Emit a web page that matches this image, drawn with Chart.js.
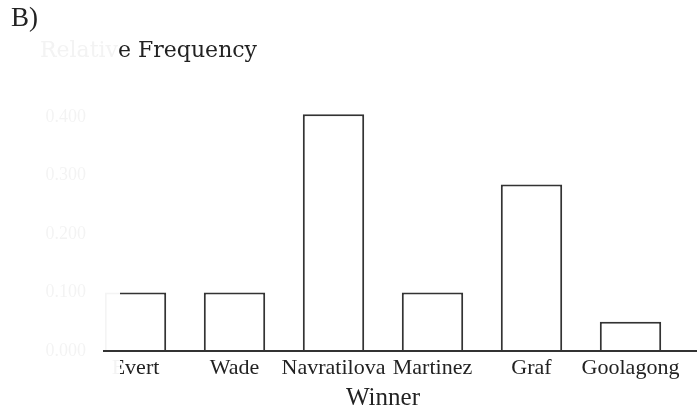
<!DOCTYPE html>
<html>
<head>
<meta charset="utf-8">
<script src="https://cdn.jsdelivr.net/npm/chart.js@4.4.0/dist/chart.umd.min.js"></script>
<style>
  html, body { margin: 0; padding: 0; background: #fff; }
  #wrap { position: relative; width: 697px; height: 415px; }
  #chart { position: absolute; left: 0; top: 0; }
  .lbl { position: absolute; white-space: nowrap; color: #222; }
  #part { left: 11px; top: 4px; font: 27px/27px "Liberation Serif", serif; }
  #ttl { left: 40px; top: 39px; font: 22px/22px "DejaVu Serif", serif; }
  #ttl .faded { color: #f3f3f3; }
</style>
</head>
<body>
<div id="wrap">
  <canvas id="chart" width="697" height="415"></canvas>
  <div id="part" class="lbl">B)</div>
  <div id="ttl" class="lbl"><span class="faded">Relativ</span>e Frequency</div>
</div>
<script>
const winners = ["Evert", "Wade", "Navratilova", "Martinez", "Graf", "Goolagong"];
const relFreq = [0.1, 0.1, 0.405, 0.1, 0.285, 0.05];
const yTicks = [0, 0.1, 0.2, 0.3, 0.4];

// scan-like fade over the left edge, then the dark baseline on top
const fadePlugin = {
    id: "fade",
    afterDraw(chart) {
        const { ctx, chartArea } = chart;
        const y0 = chart.scales.y.getPixelForValue(0);
        ctx.save();
        ctx.fillStyle = "rgba(255,255,255,0.95)";
        ctx.fillRect(0, 36, chartArea.left + 34, 350);
        ctx.strokeStyle = "#333";
        ctx.lineWidth = 2;
        ctx.beginPath();
        ctx.moveTo(chartArea.left + 17, y0);
        ctx.lineTo(chart.width, y0);
        ctx.stroke();
        ctx.restore();
    }
};

new Chart(document.getElementById("chart").getContext("2d"), {
    type: "bar",
    data: {
        labels: winners,
        datasets: [{
            data: relFreq,
            backgroundColor: "#ffffff",
            borderColor: "#333333",
            borderWidth: 2,
            borderSkipped: "start",
            barPercentage: 0.62,
            categoryPercentage: 1
        }]
    },
    options: {
        responsive: false,
        animation: false,
        events: [],
        layout: { padding: { left: 0, right: 17, top: 88, bottom: 0 } },
        plugins: { legend: { display: false }, tooltip: { enabled: false } },
        scales: {
            x: {
                grid: { display: false, drawTicks: false },
                border: { display: false },
                ticks: {
                    color: "#222",
                    font: { family: "Liberation Serif", size: 22 },
                    padding: 4,
                    maxRotation: 0,
                    autoSkip: false
                },
                title: {
                    display: true,
                    text: "Winner",
                    color: "#222",
                    font: { family: "Liberation Serif", size: 25 },
                    padding: { top: 0, bottom: 2 }
                },
                afterFit(scale) { scale.height = 64; }
            },
            y: {
                min: 0,
                max: 0.45,
                grid: { display: false, drawTicks: false },
                border: { display: false },
                afterBuildTicks(scale) {
                    scale.ticks = yTicks.map(v => ({ value: v }));
                },
                ticks: {
                    color: "#222",
                    font: { family: "Liberation Serif", size: 18 },
                    padding: 0,
                    callback: v => v.toFixed(3)
                },
                afterFit(scale) { scale.width = 86; }
            }
        }
    },
    plugins: [fadePlugin]
});
</script>
</body>
</html>
